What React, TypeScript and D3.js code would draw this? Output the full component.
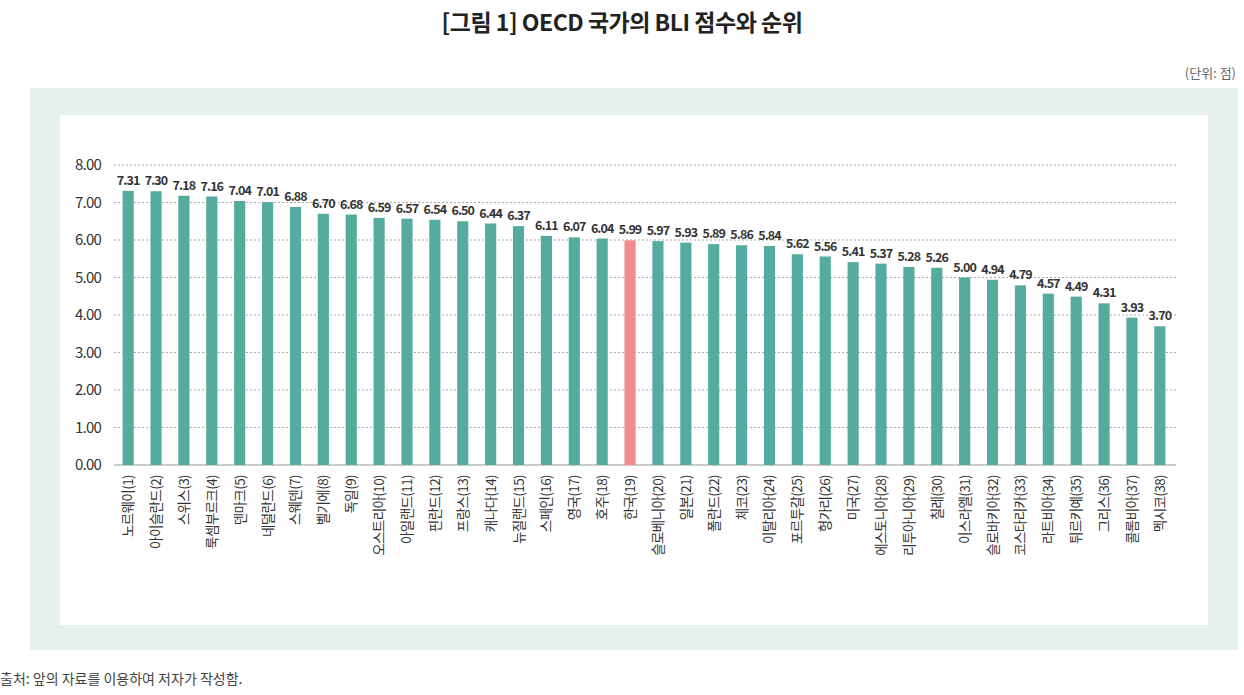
import * as d3 from 'd3';

const countries = ['노르웨이(1)', '아이슬란드(2)', '스위스(3)', '룩셈부르크(4)', '덴마크(5)', '네덜란드(6)', '스웨덴(7)', '벨기에(8)', '독일(9)', '오스트리아(10)', '아일랜드(11)', '핀란드(12)', '프랑스(13)', '캐나다(14)', '뉴질랜드(15)', '스페인(16)', '영국(17)', '호주(18)', '한국(19)', '슬로베니아(20)', '일본(21)', '폴란드(22)', '체코(23)', '이탈리아(24)', '포르투갈(25)', '헝가리(26)', '미국(27)', '에스토니아(28)', '리투아니아(29)', '칠레(30)', '이스라엘(31)', '슬로바키아(32)', '코스타리카(33)', '라트비아(34)', '튀르키예(35)', '그리스(36)', '콜롬비아(37)', '멕시코(38)'];
const scores = [7.31, 7.30, 7.18, 7.16, 7.04, 7.01, 6.88, 6.70, 6.68, 6.59, 6.57, 6.54, 6.50, 6.44, 6.37, 6.11, 6.07, 6.04, 5.99, 5.97, 5.93, 5.89, 5.86, 5.84, 5.62, 5.56, 5.41, 5.37, 5.28, 5.26, 5.00, 4.94, 4.79, 4.57, 4.49, 4.31, 3.93, 3.70];
const yTicks = [0, 1, 2, 3, 4, 5, 6, 7, 8];

const font = '"Noto Sans CJK KR", "Noto Sans", sans-serif';

export default function App() {
  const W = 1244, H = 695;
  const x = d3.scaleBand<string>().domain(countries).range([117, 1171]).paddingInner(0.6).paddingOuter(0.2);
  const y = d3.scaleLinear().domain([0, 8]).range([465, 165]);
  return (
    <svg width={W} height={H} style={{ position: 'absolute', left: 0, top: 0, background: '#fff' }} fontFamily={font}>
      <text x={622} y={31} textAnchor="middle" fontSize={23} fontWeight={700} fill="#222" letterSpacing={-0.5}>[그림 1] OECD 국가의 BLI 점수와 순위</text>
      <text x={1236} y={78} textAnchor="end" fontSize={13} fill="#666">(단위: 점)</text>
      <rect x={30} y={88} width={1208} height={562} fill="#e5f0ed" />
      <rect x={60} y={115} width={1148} height={510} fill="#fff" />
      {yTicks.map(t => (
        <g key={t}>
          {t > 0 && <line x1={114} x2={1176} y1={y(t)} y2={y(t)} stroke="#aaa" strokeDasharray="2,2" />}
          <text x={101} y={y(t) + 5} textAnchor="end" fontSize={15} fill="#333" letterSpacing={-0.8}>{t.toFixed(2)}</text>
        </g>
      ))}
      <line x1={114} x2={1176} y1={y(0)} y2={y(0)} stroke="#999" />
      {countries.map((c, i) => {
        const bx = x(c)!;
        const cx = bx + x.bandwidth() / 2;
        return (
          <g key={c}>
            <rect x={bx} y={y(scores[i])} width={x.bandwidth()} height={y(0) - y(scores[i])}
              fill={c.startsWith('한국') ? '#f28b8b' : '#55ab9f'} />
            <text x={cx} y={y(scores[i]) - 6} textAnchor="middle" fontSize={12.5} fontWeight={700} fill="#333" letterSpacing={-0.9}>{scores[i].toFixed(2)}</text>
            <text transform={`translate(${cx + 5},475) rotate(-90)`} textAnchor="end" fontSize={13.5} fill="#333" letterSpacing={-0.6}>{c}</text>
          </g>
        );
      })}
      <text x={0} y={684} fontSize={14} fill="#444">출처: 앞의 자료를 이용하여 저자가 작성함.</text>
    </svg>
  );
}
